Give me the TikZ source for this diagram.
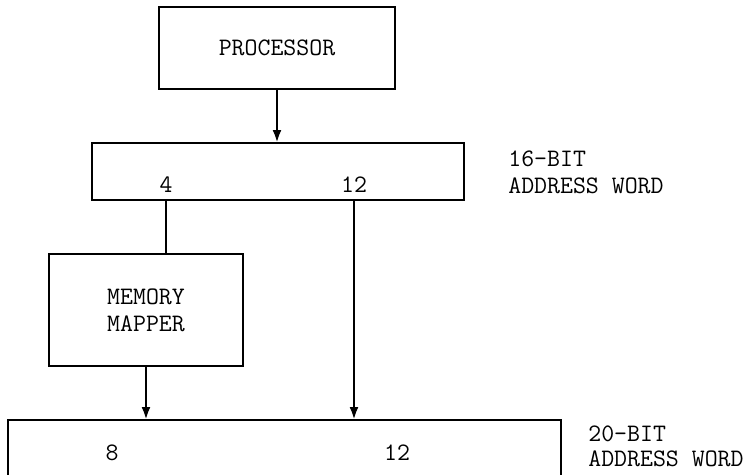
\documentclass[tikz,border=0pt]{standalone}
\usetikzlibrary{arrows.meta}
\tikzset{
  blk/.style={draw,line width=1.5pt,inner sep=0pt,outer sep=0pt,align=center},
  txt/.style={inner sep=0pt,font=\ttfamily\fontsize{14.3}{15.4}\selectfont},
  wire/.style={line width=1.5pt},
  arr/.style={wire,-{Latex[length=2.6mm,width=1.8mm]}}
}
\begin{document}
\begin{tikzpicture}[x=0.02cm,y=-0.02cm]
            \useasboundingbox (0,0) rectangle (754,474);
            \clip (0,0) rectangle (754,474);
            \node[blk,txt,minimum width=4.72cm,minimum height=1.64cm] (proc) at (277,48) {PROCESSOR};
            \node[blk,minimum width=7.44cm,minimum height=1.14cm] (addr16) at (278,171.5) {};
            \node[txt] (hibits) at (166,185) {4};
            \node[txt] (lobits) at (354,185) {12};
            \node[txt,anchor=north west,align=left] (lab16) at (508,150) {16-BIT\\ADDRESS WORD};
            \node[blk,txt,minimum width=3.88cm,minimum height=2.24cm] (mapper) at (146,310) {MEMORY\\MAPPER};
            \node[blk,minimum width=11.06cm,minimum height=1.6cm] (addr20) at (284.5,460) {};
            \node[txt] (mapbits) at (112,453) {8};
            \node[txt] (offbits) at (397,453) {12};
            \node[txt,anchor=north west,align=left] (lab20) at (588,425) {20-BIT\\[-1pt]ADDRESS WORD};
            \draw[arr] (proc.south) -- (proc.south |- addr16.north);
            \draw[wire] (hibits |- addr16.south) -- (hibits |- mapper.north);
            \draw[arr] (mapper.south) -- (mapper.south |- addr20.north);
            \draw[arr] (lobits |- addr16.south) -- (lobits |- addr20.north);
        \end{tikzpicture}
\end{document}
